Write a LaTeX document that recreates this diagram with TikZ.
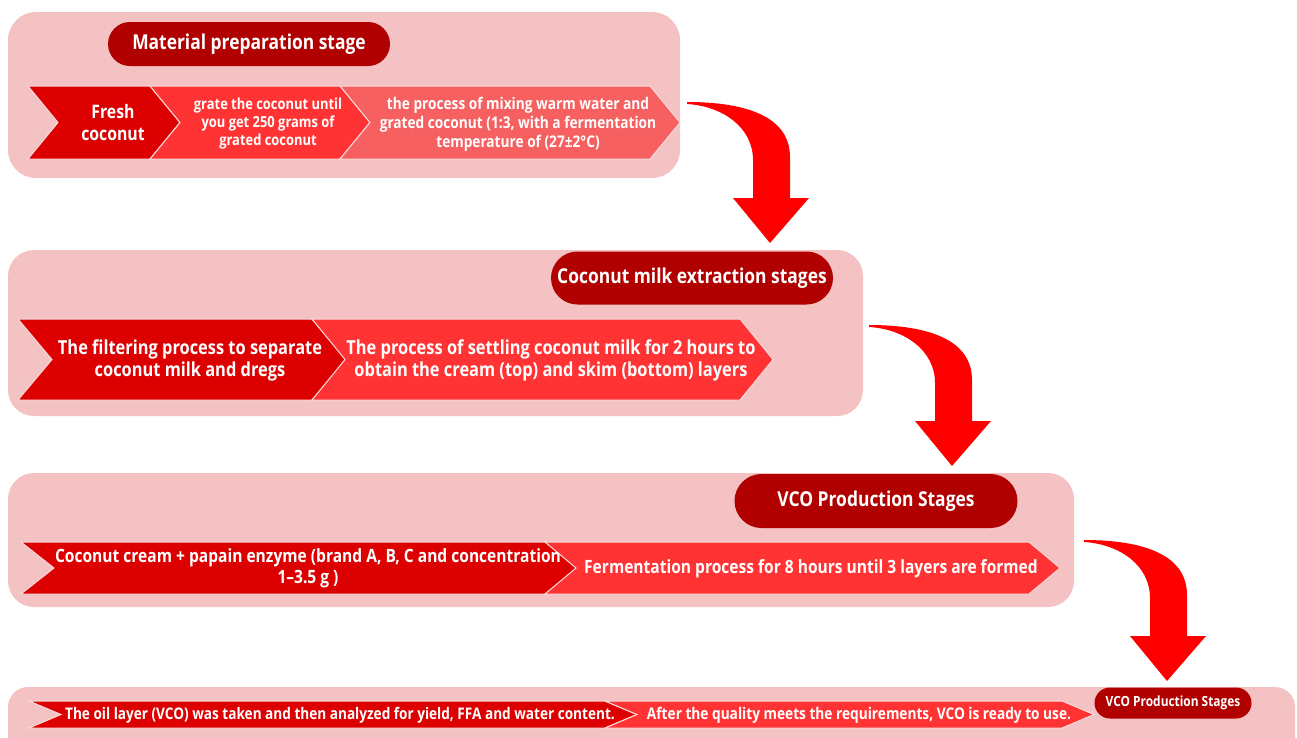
\documentclass[tikz,border=0pt]{standalone}
\usepackage{fontspec}
\setmainfont{Open Sans}[FakeStretch=0.85]
\usetikzlibrary{shapes.misc}

\definecolor{panelpink}{HTML}{F4C2C2}
\definecolor{pillred}{HTML}{B00000}
\definecolor{chevdark}{HTML}{DD0000}
\definecolor{chevmid}{HTML}{FF3333}
\definecolor{chevlight}{HTML}{F76060}
\definecolor{arrowred}{HTML}{FF0000}

% 矢羽根: 左端, 右端, 上, 下, 深さ, 色
\newcommand{\chevron}[6]{%
  \fill[#6, draw=panelpink!60!white, line width=1pt]
    (#1,#3) -- (#2,#3) -- ({#2+#5},{(#3+#4)/2}) -- (#2,#4) -- (#1,#4) -- ({#1+#5},{(#3+#4)/2}) -- cycle;}

\tikzset{
  bendarrow/.pic={
    \fill[arrowred] (0,0) .. controls (60,0) and (103,15) .. (103,55) -- (103,96) -- (122,96)
      -- (83,141) -- (46,96) -- (66,96) -- (66,58) .. controls (66,25) and (35,4) .. (0,2) -- cycle;
  },
  pill/.style={rounded rectangle, fill=pillred, text=white, inner sep=0pt,
    minimum width=282pt, minimum height=44pt, font=\bfseries\fontsize{20.5}{24}\selectfont},
  steptext/.style={text=white, align=center, inner sep=0pt}
}

\begin{document}
\begin{tikzpicture}[x=1pt,y=-1pt]
  \useasboundingbox (0,0) rectangle (1297,737);
  \clip (0,0) rectangle (1297,737);
  % 背景パネル
  \fill[panelpink, rounded corners=28pt] (8,12) rectangle (680,178);
  \fill[panelpink, rounded corners=26pt] (8,250) rectangle (863,416);
  \fill[panelpink, rounded corners=26pt] (8,473) rectangle (1074,607);
  \fill[panelpink, rounded corners=20pt] (8,687) rectangle (1295,760);
  % 段階1
  \chevron{28}{150}{86}{159}{30}{chevdark}
  \chevron{150}{340}{86}{159}{30}{chevmid}
  \chevron{340}{650}{86}{159}{30}{chevlight}
  \node[pill] (prepstage) at (249,44) {Material preparation stage};
  \node[steptext, font=\bfseries\fontsize{18.6}{22}\selectfont] (fresh) at (113,123) {Fresh\\coconut};
  \node[steptext, font=\bfseries\fontsize{15.2}{18}\selectfont] (grate) at (268,124)
    {grate the coconut until\\you get 250 grams of\\grated coconut};
  \node[steptext, font=\bfseries\fontsize{16.1}{19}\selectfont] (mixing) at (518,124)
    {the process of mixing warm water and\\grated coconut (1:3, with a fermentation\\temperature of (27±2°C)};
  % 段階2
  \chevron{18}{312}{319}{400}{34}{chevdark}
  \chevron{312}{740}{319}{400}{33}{chevmid}
  \node[pill, minimum height=53pt] (milkstage) at (692,278) {Coconut milk extraction stages};
  \node[steptext, font=\bfseries\fontsize{19.3}{22}\selectfont] (filter) at (190,360)
    {The filtering process to separate\\coconut milk and dregs};
  \node[steptext, font=\bfseries\fontsize{19.3}{22}\selectfont] (settle) at (551,360)
    {The process of settling coconut milk for 2 hours to\\obtain the cream (top) and skim (bottom) layers};
  % 段階3
  \chevron{21}{545}{542}{594}{33}{chevdark}
  \chevron{545}{1029}{542}{594}{31}{chevmid}
  \node[pill, minimum width=283pt, minimum height=54pt] (vcostage) at (876,501) {VCO Production Stages};
  \node[steptext, font=\bfseries\fontsize{18.3}{21}\selectfont] (cream) at (308,568)
    {Coconut cream + papain enzyme (brand A, B, C and concentration\\1–3.5 g )};
  \node[steptext, font=\bfseries\fontsize{18.3}{21}\selectfont] (ferment) at (811,569)
    {Fermentation process for 8 hours until 3 layers are formed};
  % 段階4
  \chevron{29}{605}{701}{728}{32}{chevdark}
  \chevron{605}{1062}{701}{728}{32}{chevmid}
  \node[pill, minimum width=157pt, minimum height=31pt, font=\bfseries\fontsize{14}{16}\selectfont]
    (finalstage) at (1173,703) {VCO Production Stages};
  \node[steptext, font=\bfseries\fontsize{16}{19}\selectfont] (oil) at (340,715)
    {The oil layer (VCO) was taken and then analyzed for yield, FFA and water content.};
  \node[steptext, font=\bfseries\fontsize{16.1}{19}\selectfont] (ready) at (859,715)
    {After the quality meets the requirements, VCO is ready to use.};
  % 曲がり矢印
  \coordinate (bendone) at (687,102);
  \coordinate (bendtwo) at (869,325);
  \coordinate (bendthree) at (1084,540);
  \pic at (bendone) {bendarrow};
  \pic at (bendtwo) {bendarrow};
  \pic at (bendthree) {bendarrow};
\end{tikzpicture}
\end{document}
